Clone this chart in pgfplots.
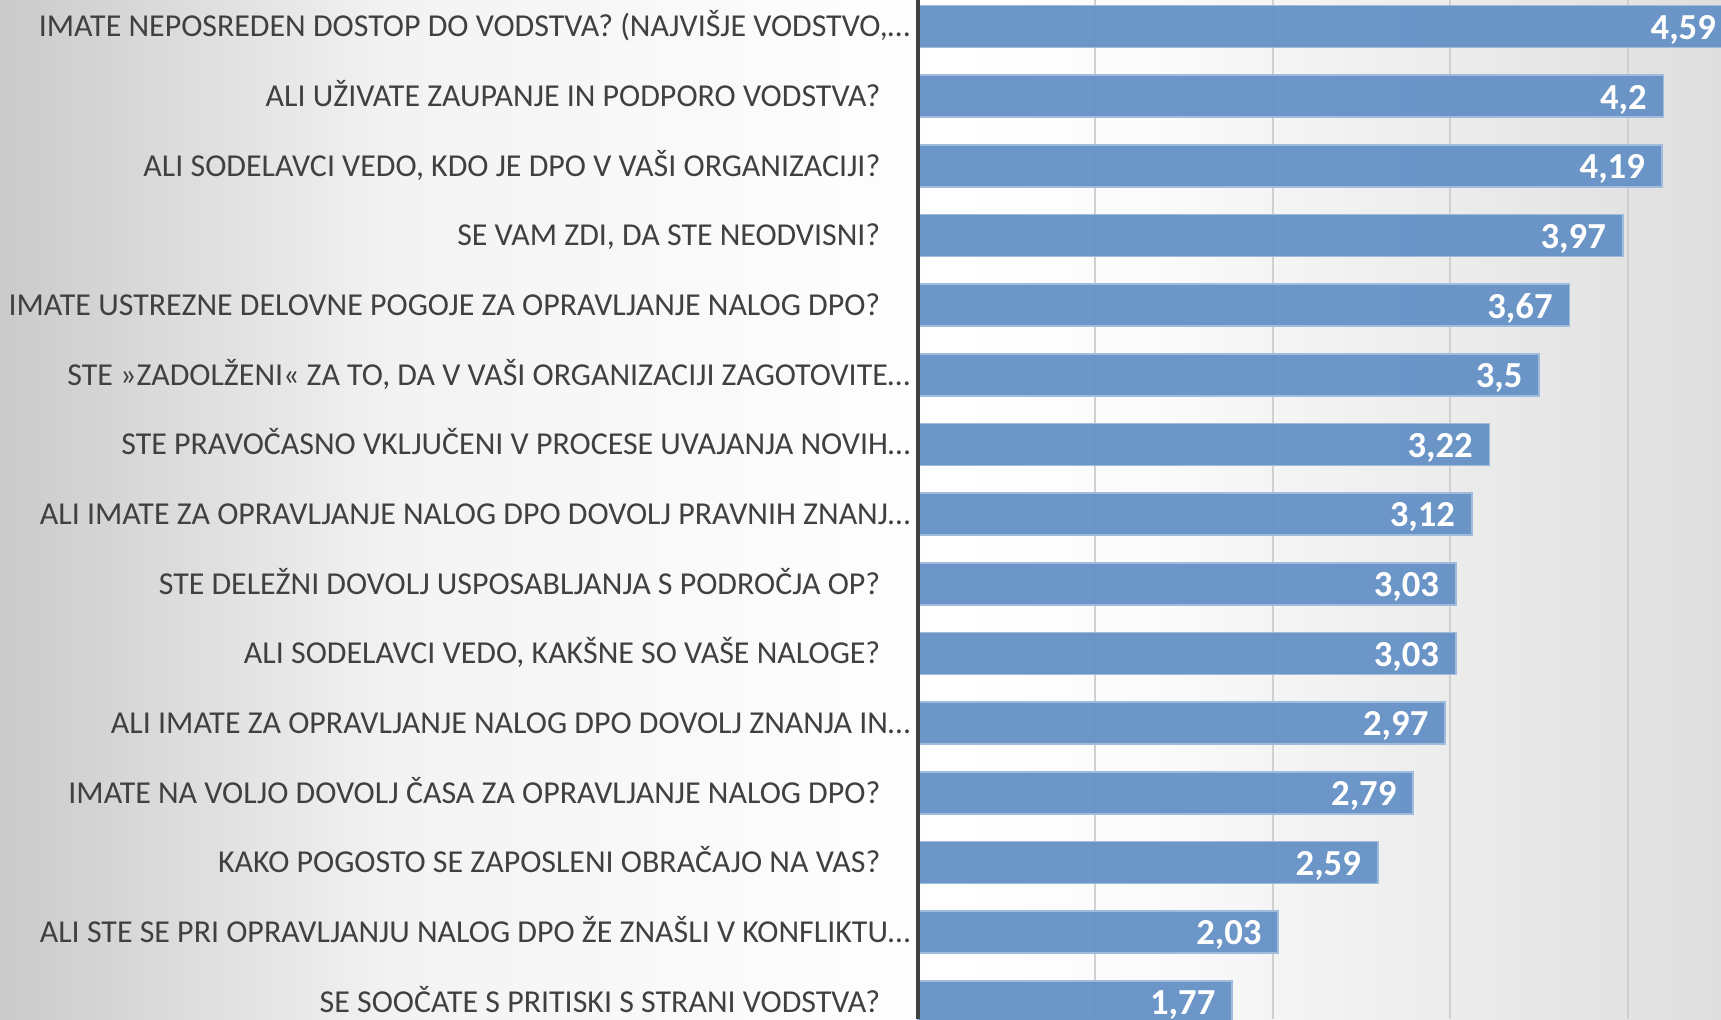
\documentclass[border=0pt]{standalone}
\usepackage{pgfplots}
\pgfplotsset{compat=1.18}
\usepackage{fontspec}
\setmainfont{Carlito}
\definecolor{barblue}{RGB}{101,145,198}
\definecolor{barline}{RGB}{160,188,220}
\definecolor{txt}{RGB}{64,64,64}
\definecolor{gridc}{RGB}{208,208,208}
\definecolor{bgA}{RGB}{202,202,202}
\definecolor{bgB}{RGB}{243,243,243}
\definecolor{bgC}{RGB}{255,255,255}
\definecolor{bgD}{RGB}{251,251,251}
\definecolor{bgE}{RGB}{236,236,236}
\definecolor{bgF}{RGB}{222,222,222}
\pgfdeclarehorizontalshading{bgshade}{100bp}{color(0bp)=(bgA); color(25bp)=(bgA); color(36.6bp)=(bgB); color(52.6bp)=(bgC); color(58.4bp)=(bgD); color(67.1bp)=(bgE); color(75bp)=(bgF); color(100bp)=(bgF)}
\pgfplotstableread{
y x
0 4.59
1 4.2
2 4.19
3 3.97
4 3.67
5 3.5
6 3.22
7 3.12
8 3.03
9 3.03
10 2.97
11 2.79
12 2.59
13 2.03
14 1.77
}\datatable
\newcommand{\tr}{\rlap{…}\kern-2.3pt\null}
\begin{document}
\begin{tikzpicture}
\shade[shading=bgshade] (0,0) rectangle (516.3pt,305.7pt);
\begin{axis}[
  at={(275.4pt,0pt)}, anchor=south west,
  scale only axis, width=250.275pt, height=305.7pt,
  xmin=0, xmax=4.7, ymin=-0.380, ymax=14.248,
  y dir=reverse,
  clip=false,
  xbar, bar width=12.6pt,
  axis line style={draw=none},
  xtick={1,2,3,4}, xticklabels={},
  xmajorgrids, major grid style={draw=gridc, line width=0.6pt},
  major tick length=0pt,
  ytick={0,...,14},
  yticklabels={
    {IMATE NEPOSREDEN DOSTOP DO VODSTVA? (NAJVIŠJE VODSTVO,\tr},
    ALI UŽIVATE ZAUPANJE IN PODPORO VODSTVA?,
    {ALI SODELAVCI VEDO, KDO JE DPO V VAŠI ORGANIZACIJI?},
    {SE VAM ZDI, DA STE NEODVISNI?},
    IMATE USTREZNE DELOVNE POGOJE ZA OPRAVLJANJE NALOG DPO?,
    {STE »ZADOLŽENI« ZA TO, DA V VAŠI ORGANIZACIJI ZAGOTOVITE\tr},
    STE PRAVOČASNO VKLJUČENI V PROCESE UVAJANJA NOVIH\tr,
    ALI IMATE ZA OPRAVLJANJE NALOG DPO DOVOLJ PRAVNIH ZNANJ\tr,
    STE DELEŽNI DOVOLJ USPOSABLJANJA S PODROČJA OP?,
    {ALI SODELAVCI VEDO, KAKŠNE SO VAŠE NALOGE?},
    ALI IMATE ZA OPRAVLJANJE NALOG DPO DOVOLJ ZNANJA IN\tr,
    IMATE NA VOLJO DOVOLJ ČASA ZA OPRAVLJANJE NALOG DPO?,
    KAKO POGOSTO SE ZAPOSLENI OBRAČAJO NA VAS?,
    ALI STE SE PRI OPRAVLJANJU NALOG DPO ŽE ZNAŠLI V KONFLIKTU\tr,
    SE SOOČATE S PRITISKI S STRANI VODSTVA?
  },
  yticklabel style={anchor=east, inner sep=0pt, xshift=-11.1pt, font=\fontsize{9.58pt}{11pt}\selectfont, text=txt, text height=6.2pt, text depth=0pt},
  /pgf/number format/assume math mode=true,
  /pgf/number format/use comma,
  nodes near coords,
  nodes near coords style={anchor=east, inner sep=0pt, xshift=-4.8pt, yshift=-1pt, text=white, font=\fontsize{11pt}{12pt}\selectfont\bfseries},
]
\addplot[fill=barblue, fill opacity=0.95, draw=barline, line width=0.5pt, text opacity=1] table[x=x, y=y] {\datatable};
\draw[draw=txt, line width=1.2pt] (axis cs:0,-0.380) -- (axis cs:0,14.248);
\end{axis}
\pgfresetboundingbox
\path (0,0) rectangle (516.3pt,305.7pt);
\end{tikzpicture}
\end{document}
